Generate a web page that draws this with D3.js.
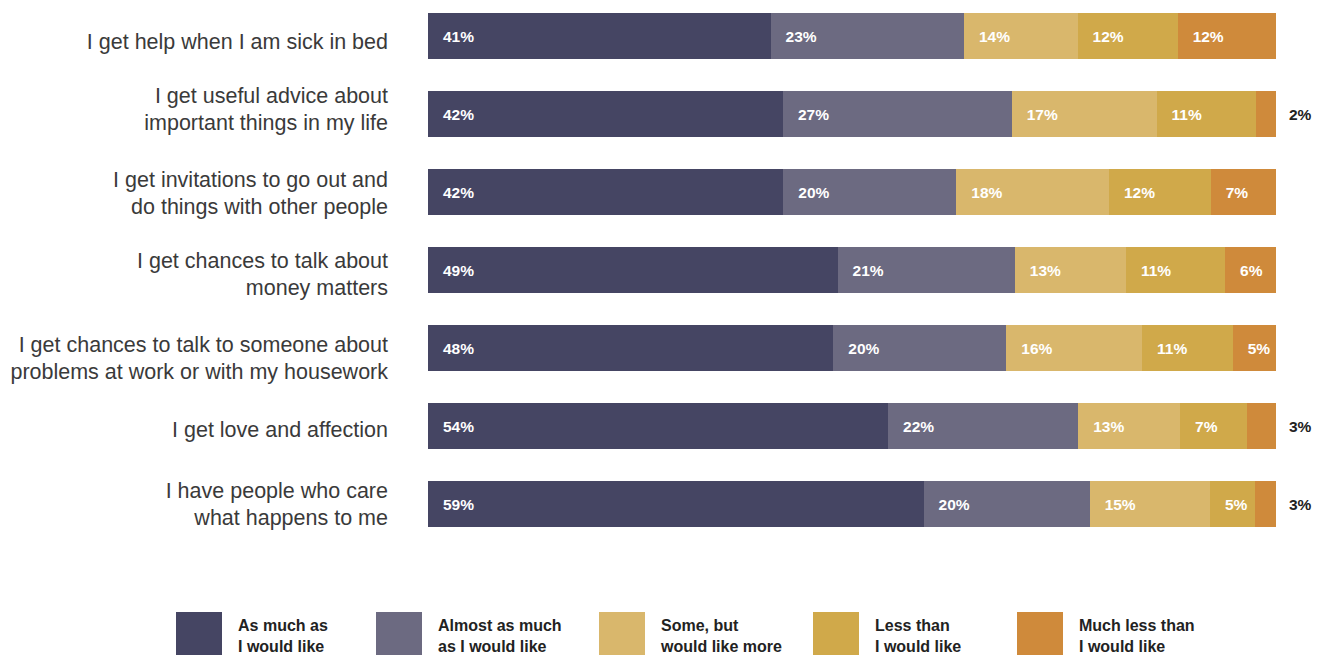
<!DOCTYPE html>
<html>
<head>
<meta charset="utf-8">
<script src="https://cdn.jsdelivr.net/npm/d3@7"></script>
<style>
  html, body { margin: 0; padding: 0; background: #fff; }
  svg { display: block; }
</style>
</head>
<body>
<div id="chart"></div>
<script>
// ---- data ----
const categories = [
  ["I get help when I am sick in bed"],
  ["I get useful advice about", "important things in my life"],
  ["I get invitations to go out and", "do things with other people"],
  ["I get chances to talk about", "money matters"],
  ["I get chances to talk to someone about", "problems at work or with my housework"],
  ["I get love and affection"],
  ["I have people who care", "what happens to me"]
];
const seriesNames = ["As much as|I would like", "Almost as much|as I would like", "Some, but|would like more", "Less than|I would like", "Much less than|I would like"];
// shares as drawn
const asMuch      = [40.4, 41.9, 41.9, 48.3, 47.8, 54.2, 58.5];
const almostAs    = [22.8, 27.0, 20.4, 20.9, 20.4, 22.4, 19.6];
const someMore    = [13.4, 17.1, 18.0, 13.1, 16.0, 12.0, 14.2];
const lessThan    = [11.8, 11.7, 12.0, 11.7, 10.7,  7.9,  5.3];
const muchLess    = [11.6,  2.4,  7.7,  6.0,  5.1,  3.4,  2.5];
// displayed labels
const lblAsMuch   = [41, 42, 42, 49, 48, 54, 59];
const lblAlmost   = [23, 27, 20, 21, 20, 22, 20];
const lblSome     = [14, 17, 18, 13, 16, 13, 15];
const lblLess     = [12, 11, 12, 11, 11,  7,  5];
const lblMuchLess = [12,  2,  7,  6,  5,  3,  3];
const colors = ["#454563", "#6c6a81", "#d9b76c", "#d0a94a", "#cf8a3b"];

// ---- layout ----
const W = 1317, H = 655;
const barX0 = 428, barX1 = 1276;
const legendX = [176, 376, 599, 813, 1017];
const labelBaselineOffset = [13, -10.7, -5.3, -2, 3.7, 10.7, -5.7]; // first-line baseline vs bar centre

const keys = ["s0", "s1", "s2", "s3", "s4"];
const seriesVals = [asMuch, almostAs, someMore, lessThan, muchLess];
const seriesLbls = [lblAsMuch, lblAlmost, lblSome, lblLess, lblMuchLess];
const rows = categories.map((c, i) => {
  const r = { idx: i };
  keys.forEach((k, j) => { r[k] = seriesVals[j][i]; });
  return r;
});

const stack = d3.stack().keys(keys).offset(d3.stackOffsetExpand);
const stacked = stack(rows);

const x = d3.scaleLinear().domain([0, 1]).range([barX0, barX1]);
const y = d3.scaleBand().domain(d3.range(categories.length)).range([-3, 543]).paddingInner(0.41).paddingOuter(0.205);

const svg = d3.select("#chart").append("svg").attr("width", W).attr("height", H);

const g = svg.append("g");

stacked.forEach((layer, j) => {
  const lg = g.append("g").attr("fill", colors[j]);
  lg.selectAll("rect").data(layer).join("rect")
    .attr("x", d => x(d[0]))
    .attr("y", (d, i) => y(i))
    .attr("width", d => x(d[1]) - x(d[0]))
    .attr("height", y.bandwidth())
    .attr("shape-rendering", "crispEdges");
  lg.selectAll("text").data(layer).join("text")
    .attr("x", d => (x(d[1]) - x(d[0]) < 32) ? barX1 + 13 : x(d[0]) + 15)
    .attr("y", (d, i) => y(i) + y.bandwidth() / 2)
    .attr("dy", "0.36em")
    .attr("fill", d => (x(d[1]) - x(d[0]) < 32) ? "#222" : "#fff")
    .style("font-family", "'Liberation Sans', Arial, sans-serif")
    .style("font-weight", "bold")
    .style("font-size", "15.5px")
    .text((d, i) => seriesLbls[j][i] + "%");
});

// category labels
const cat = g.append("g");
categories.forEach((lines, i) => {
  const cy = y(i) + y.bandwidth() / 2;
  const t = cat.append("text")
    .attr("text-anchor", "end")
    .attr("x", 388)
    .attr("fill", "#3a3a3a")
    .style("font-family", "'Liberation Sans', Arial, sans-serif")
    .style("font-size", "21.5px");
  lines.forEach((ln, k) => {
    t.append("tspan").attr("x", 388)
      .attr("y", cy + labelBaselineOffset[i] + k * 27)
      .text(ln);
  });
});

// legend
const leg = svg.append("g");
seriesNames.forEach((name, j) => {
  const lx = legendX[j];
  leg.append("rect").attr("x", lx).attr("y", 612).attr("width", 46).attr("height", 46).attr("fill", colors[j]);
  const parts = name.split("|");
  const t = leg.append("text")
    .attr("fill", "#222")
    .style("font-family", "'Liberation Sans', Arial, sans-serif")
    .style("font-weight", "bold")
    .style("font-size", "16px");
  parts.forEach((p, k) => {
    t.append("tspan").attr("x", lx + 62).attr("y", 631 + k * 21).text(p);
  });
});
</script>
</body>
</html>
